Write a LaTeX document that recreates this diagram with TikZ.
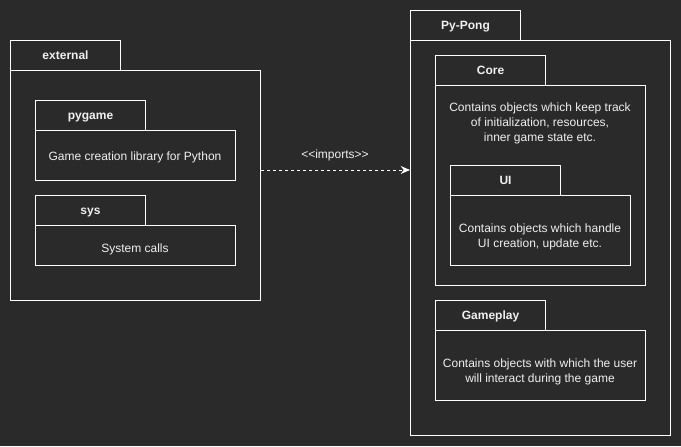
\documentclass[tikz,border=0pt]{standalone}
\usepackage{fontspec}
\setmainfont{Liberation Sans}
\usetikzlibrary{arrows.meta}
\definecolor{bgdark}{HTML}{2A2A2A}
\definecolor{inkwhite}{HTML}{F0F0F0}
\tikzset{
	pkgtab/.style={draw=white, line width=0.75pt, inner sep=0pt, anchor=north west, minimum height=22.5pt, text height=6.5pt, text depth=0pt, text=inkwhite, font=\fontsize{9}{11}\selectfont\bfseries},
	pkgbody/.style={draw=white, line width=0.75pt, inner sep=0pt, anchor=north west},
	pkgtext/.style={text=inkwhite, align=center, font=\fontsize{9}{11.2}\selectfont},
}
% package: name, x, y, body width, body height, tab width, label
\newcommand\pkg[7]{
	\node[pkgbody, minimum width=#4*0.75pt, minimum height=#5*0.75pt] (#1body) at (#2,#3+30) {};
	\node[pkgtab, minimum width=#6*0.75pt] (#1tab) at (#2,#3) {#7};
}

\begin{document}
\begin{tikzpicture}[x=0.75pt, y=-0.75pt]
		%%%%% START %%%%%
		\fill[bgdark] (0,0) rectangle (681,446);
		\useasboundingbox (0,0) rectangle (681,446);
		
		\pkg{ext}{10}{40}{250}{230}{110}{external}
		\pkg{pygame}{35}{100}{200}{50}{110}{pygame}
		\node[pkgtext] (pygameText) at (135,157) {Game creation library for Python};
		\pkg{sys}{35}{195}{200}{40}{110}{sys}
		\node[pkgtext] (sysText) at (135,249) {System calls};
		
		\pkg{pong}{410}{10}{260}{395}{110}{Py-Pong}
		\pkg{core}{435}{55}{210}{200}{110}{Core}
		\node[pkgtext] (coreText) at (540,123) {Contains objects which keep track\\of initialization, resources,\\ inner game state etc.};
		\pkg{ui}{450}{165}{180}{70}{110}{UI}
		\node[pkgtext] (uiText) at (540,237) {Contains objects which handle\\ UI creation, update etc.};
		\pkg{play}{435}{300}{210}{70}{110}{Gameplay}
		\node[pkgtext] (playText) at (540,372) {Contains objects with which the user\\ will interact during the game};
		
		\draw[white, line width=0.75pt, dash pattern=on 2.25pt off 2.25pt, -{Stealth[length=7pt, width=6pt]}] (extbody.east |- 0,170) -- (pongbody.west |- 0,170);
		\node[pkgtext] (importsLabel) at (335,155) {<\kern0pt<imports>\kern0pt>};
		%%%%% END %%%%%
\end{tikzpicture}
\end{document}
